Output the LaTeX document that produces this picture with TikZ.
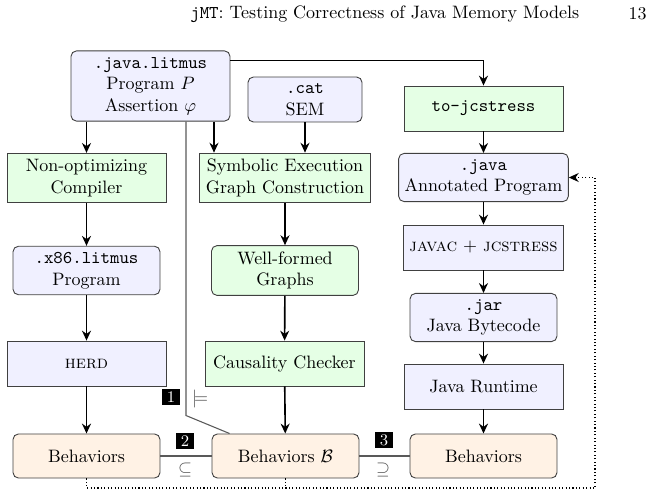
\documentclass[tikz,border=0pt]{standalone}
\usepackage{tikz}
\usetikzlibrary{calc}
\usetikzlibrary{arrows.meta}

\begin{document}
\begin{tikzpicture} [x=.556pt, y=-.556pt,
data/.style={draw=black!75, line width=.5pt, rounded corners=3pt, fill=blue!6, align=center, minimum width=81.7pt, minimum height=24.5pt},
tool/.style={draw=black!75, line width=.5pt, fill=green!10, align=center, minimum width=88.4pt, minimum height=25pt},
run/.style={tool, fill=blue!6},
beh/.style={data, fill=orange!10},
flow/.style={-{Stealth[length=5.5pt, width=5pt]}, line width=.9pt},
sem/.style={black!65, line width=.6pt},
loopline/.style={line width=.6pt, dash pattern=on .6pt off 1.3pt},
num/.style={fill=black, text=white, inner xsep=2.6pt, inner ysep=1.4pt, font=\small},
rel/.style={text=black!70, inner sep=1pt}]

\useasboundingbox (0,0) rectangle (655,497);

\node[anchor=west] (head) at (184,14) {\texttt{jMT}: Testing Correctness of Java Memory Models};
\node[anchor=east] (page) at (653,14) {13};

\node[data, minimum width=88.4pt, minimum height=39pt] (litmus) at (150.5,86) {\texttt{.java.litmus}\\Program $P$\\Assertion $\varphi$};
\node[data, minimum width=63.4pt, minimum height=25pt] (cat) at (305,99.5) {\texttt{.cat}\\SEM};
\node[tool] (tojc) at (483.5,108.5) {\texttt{to-jcstress}};

\node[tool] (compile) at (86.5,178) {Non-optimizing\\Compiler};
\node[tool] (symb) at (285,178) {Symbolic Execution\\Graph Construction};
\node[data] (annot) at (483.5,177.5) {\texttt{.java}\\Annotated Program};

\node[data] (x86) at (86.5,270.5) {\texttt{.x86.litmus}\\Program};
\node[data, fill=green!10] (wf) at (285,270.5) {Well-formed\\Graphs};
\node[run] (javac) at (483.5,247.5) {\textsc{javac} + \textsc{jcstress}};
\node[data] (jar) at (483.5,317.5) {\texttt{.jar}\\Java Bytecode};

\node[run] (herd) at (86.5,363.5) {\textsc{herd}};
\node[tool] (caus) at (284.5,363.5) {Causality Checker};
\node[run] (jvm) at (483.5,386.5) {Java Runtime};

\node[beh] (behL) at (86.5,456) {Behaviors};
\node[beh] (behB) at (285.5,456) {Behaviors $\mathcal{B}$};
\node[beh] (behR) at (483.5,456) {Behaviors};

% inputs
\draw[flow] (litmus.south -| compile.north) -- (compile.north);
\draw[flow] ($(litmus.south)+(63.5,0)$) coordinate (l2) -- (l2 |- symb.north);
\draw[flow] (cat) -- (cat |- symb.north);
\draw[flow] ($(litmus.north east)+(0,10)$) -| (tojc);

% pipelines
\draw[flow] (compile) -- (x86);
\draw[flow] (x86) -- (herd);
\draw[flow] (herd) -- (behL);
\draw[flow] (symb) -- (wf);
\draw[flow] (wf) -- (caus);
\draw[flow] (caus) -- (behB);
\draw[flow] (tojc) -- (annot);
\draw[flow] (annot) -- (javac);
\draw[flow] (javac) -- (jar);
\draw[flow] (jar) -- (jvm);
\draw[flow] (jvm) -- (behR);

% checks
\draw[sem] ($(litmus.south)+(35.5,0)$) --++(0,294) -- ($(behB.north west)+(18,0)$);
\draw[sem] (behL) -- (behB);
\draw[sem] (behB) -- (behR);

\node[num] (n1) at (171,397) {1};
\node[rel] (m1) at (200,399) {$\models$};
\node[num] (n2) at (185,441) {2};
\node[rel] (s2) at (185,470) {$\subseteq$};
\node[num] (n3) at (384,440) {3};
\node[rel] (s3) at (383,470) {$\supseteq$};

% feedback
\coordinate (loop) at (595,488);
\draw[flow, loopline] (behL.south) |- (loop) |- (annot.east);
\draw[loopline] (behB.south) -- (behB.south |- loop);

\end{tikzpicture}
\end{document}
